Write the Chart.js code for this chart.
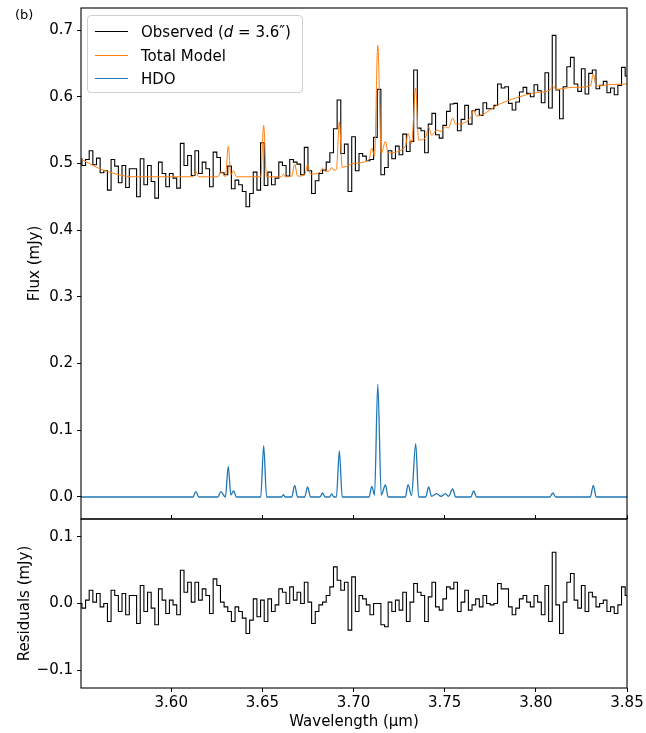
<!DOCTYPE html>
<html>
<head>
<meta charset="utf-8">
<script src="https://cdn.jsdelivr.net/npm/chart.js@4.4.0/dist/chart.umd.min.js"></script>
<style>
  body { margin: 0; background: #fff; }
  #wrap { position: relative; width: 646px; height: 733px; font-family: 'DejaVu Sans', sans-serif; color: #000; }
  canvas { position: absolute; left: 0; top: 0; }
  #tag { position: absolute; left: 15px; top: 7px; font-size: 13px; }
  #legend { position: absolute; left: 87px; top: 15px; width: 216px; height: 78px; box-sizing: border-box;
            border: 1px solid #cfcfcf; border-radius: 4px; background: rgba(255,255,255,0.85); font-size: 15px; }
  .row { position: absolute; left: 0; height: 20px; line-height: 20px; width: 100%; }
  .ln { position: absolute; left: 7px; top: 9px; width: 33px; height: 0; border-top: 1.4px solid; }
  .tx { position: absolute; left: 53px; white-space: nowrap; }
</style>
</head>
<body>
<div id="wrap">
  <canvas id="topChart" width="646" height="733"></canvas>
  <canvas id="resChart" width="646" height="733"></canvas>
  <div id="tag">(b)</div>
  <div id="legend">
    <div class="row" style="top:6px"><span class="ln" style="border-color:#000"></span><span class="tx">Observed (<i>d</i> = 3.6″)</span></div>
    <div class="row" style="top:30px"><span class="ln" style="border-color:#ff7f0e"></span><span class="tx">Total Model</span></div>
    <div class="row" style="top:53px"><span class="ln" style="border-color:#1f77b4"></span><span class="tx">HDO</span></div>
  </div>
</div>
<script>
// observed spectrum grid (um)
var obsWave = [
  3.550,3.552,3.554,3.556,3.558,3.560,3.562,3.564,3.566,3.568,
  3.570,3.572,3.574,3.576,3.578,3.580,3.582,3.584,3.586,3.588,
  3.590,3.592,3.594,3.596,3.598,3.600,3.602,3.604,3.606,3.608,
  3.610,3.612,3.614,3.616,3.618,3.620,3.622,3.624,3.626,3.628,
  3.630,3.632,3.634,3.636,3.638,3.640,3.642,3.644,3.646,3.648,
  3.650,3.652,3.654,3.656,3.658,3.660,3.662,3.664,3.666,3.668,
  3.670,3.672,3.674,3.676,3.678,3.680,3.682,3.684,3.686,3.688,
  3.690,3.692,3.694,3.696,3.698,3.700,3.702,3.704,3.706,3.708,
  3.710,3.712,3.714,3.716,3.718,3.720,3.722,3.724,3.726,3.728,
  3.730,3.732,3.734,3.736,3.738,3.740,3.742,3.744,3.746,3.748,
  3.750,3.752,3.754,3.756,3.758,3.760,3.762,3.764,3.766,3.768,
  3.770,3.772,3.774,3.776,3.778,3.780,3.782,3.784,3.786,3.788,
  3.790,3.792,3.794,3.796,3.798,3.800,3.802,3.804,3.806,3.808,
  3.810,3.812,3.814,3.816,3.818,3.820,3.822,3.824,3.826,3.828,
  3.830,3.832,3.834,3.836,3.838,3.840,3.842,3.844,3.846,3.848,
  3.850
];

// observed flux (mJy)
var obsFlux = [
  0.507,0.497,0.506,0.519,0.498,0.508,0.486,0.489,0.460,0.506,
  0.496,0.471,0.497,0.464,0.492,0.492,0.450,0.507,0.468,0.497,
  0.473,0.448,0.502,0.485,0.465,0.485,0.478,0.463,0.530,0.497,
  0.512,0.482,0.519,0.485,0.502,0.492,0.465,0.517,0.509,0.486,
  0.483,0.496,0.462,0.475,0.468,0.458,0.435,0.455,0.487,0.460,
  0.531,0.467,0.487,0.468,0.478,0.502,0.497,0.481,0.506,0.502,
  0.499,0.483,0.524,0.489,0.455,0.474,0.485,0.490,0.502,0.516,
  0.552,0.595,0.515,0.529,0.458,0.540,0.489,0.515,0.511,0.504,
  0.506,0.539,0.611,0.483,0.494,0.519,0.507,0.526,0.513,0.544,
  0.518,0.533,0.640,0.553,0.549,0.516,0.559,0.575,0.543,0.538,
  0.557,0.578,0.589,0.590,0.549,0.566,0.587,0.559,0.579,0.581,
  0.572,0.591,0.582,0.582,0.587,0.619,0.613,0.615,0.590,0.580,
  0.592,0.607,0.614,0.605,0.600,0.618,0.609,0.591,0.636,0.583,
  0.692,0.610,0.567,0.615,0.645,0.659,0.619,0.608,0.642,0.604,
  0.635,0.640,0.612,0.617,0.623,0.606,0.613,0.603,0.617,0.644,
  0.631
];

// residuals (mJy), same grid
var residFlux = [
  0.000,-0.007,0.005,0.020,0.002,0.015,-0.005,0.000,-0.027,0.020,
  0.012,-0.012,0.015,-0.017,0.012,0.012,-0.030,0.027,-0.012,0.017,
  -0.007,-0.032,0.022,0.005,-0.015,0.005,-0.002,-0.017,0.050,0.017,
  0.032,0.002,0.032,0.005,0.022,0.012,-0.015,0.037,0.027,0.002,
  -0.005,-0.012,-0.027,-0.005,-0.012,-0.022,-0.045,-0.025,0.007,-0.020,
  0.005,-0.027,0.007,-0.012,-0.002,0.022,0.017,0.000,0.025,0.005,
  0.017,0.000,0.032,0.002,-0.030,-0.012,-0.002,0.002,0.012,0.025,
  0.055,0.035,0.020,0.032,-0.040,0.040,-0.012,0.012,0.007,-0.002,
  -0.017,0.000,0.000,-0.032,-0.035,0.002,-0.012,0.005,-0.010,0.017,
  -0.027,0.002,0.030,0.017,0.012,-0.027,0.010,0.032,-0.005,-0.010,
  0.007,0.025,0.022,0.032,-0.012,0.002,0.020,-0.010,-0.002,0.007,
  -0.005,0.012,0.000,-0.002,0.000,0.030,0.022,0.022,-0.005,-0.017,
  -0.007,0.007,0.012,0.002,-0.005,0.012,0.002,-0.017,0.027,-0.027,
  0.077,-0.002,-0.045,0.002,0.032,0.045,0.005,-0.007,0.027,-0.012,
  0.017,0.010,-0.005,0.000,0.005,-0.012,-0.005,-0.015,-0.002,0.025,
  0.012
];

// total model
var modelWave = [
  3.5500,3.5550,3.5600,3.5650,3.5700,3.5750,3.5800,
  3.6119,3.6135,3.6151,
  3.6256,3.6272,3.6297,3.6313,3.6327,3.6342,3.6358,
  3.6491,3.6507,3.6523,
  3.6605,3.6615,3.6625,
  3.6661,3.6677,3.6693,
  3.6732,3.6748,3.6764,
  3.6816,3.6830,3.6844,
  3.6868,3.6880,3.6892,
  3.6906,3.6922,3.6938,
  3.7000,
  3.7085,3.7100,3.7115,3.7133,3.7152,3.7175,3.7190,
  3.7284,3.7299,3.7318,3.7341,3.7357,
  3.7396,3.7412,3.7428,3.7456,3.7480,3.7504,3.7520,3.7544,3.7560,
  3.7643,3.7659,3.7675,
  3.7800,3.7900,3.8000,
  3.8077,3.8093,3.8109,
  3.8200,
  3.8299,3.8315,3.8331,
  3.8400,3.8500
];
var modelFlux = [
  0.507,0.500,0.493,0.488,0.484,0.481,0.480,
  0.480,0.488,0.480,
  0.480,0.488,0.480,0.526,0.483,0.489,0.480,
  0.480,0.557,0.480,
  0.480,0.484,0.480,
  0.481,0.499,0.481,
  0.483,0.498,0.484,
  0.487,0.493,0.488,
  0.489,0.494,0.490,
  0.491,0.562,0.494,
  0.500,
  0.506,0.523,0.511,0.677,0.515,0.533,0.516,
  0.525,0.545,0.530,0.613,0.535,
  0.539,0.555,0.542,0.550,0.548,0.555,0.553,0.568,0.559,
  0.569,0.580,0.571,
  0.589,0.599,0.606,
  0.610,0.617,0.611,
  0.614,
  0.616,0.634,0.616,
  0.618,0.619
];

// HDO component
var hdoWave = [
  3.5500,
  3.6119,3.6135,3.6151,
  3.6256,3.6272,3.6297,3.6313,3.6327,3.6342,3.6358,
  3.6491,3.6507,3.6523,
  3.6605,3.6615,3.6625,
  3.6661,3.6677,3.6693,
  3.6732,3.6748,3.6764,
  3.6816,3.6830,3.6844,
  3.6868,3.6880,3.6892,
  3.6906,3.6922,3.6938,
  3.7085,3.7100,3.7115,3.7133,3.7152,3.7175,3.7190,
  3.7284,3.7299,3.7318,3.7341,3.7357,
  3.7396,3.7412,3.7428,3.7456,3.7480,3.7504,3.7520,3.7544,3.7560,
  3.7643,3.7659,3.7675,
  3.8077,3.8093,3.8109,
  3.8299,3.8315,3.8331,
  3.8500
];
var hdoFlux = [
  0,
  0,0.008,0,
  0,0.008,0,0.046,0.003,0.009,0,
  0,0.077,0,
  0,0.0035,0,
  0,0.0175,0,
  0,0.015,0,
  0,0.006,0,
  0,0.0045,0,
  0,0.069,0,
  0,0.016,0.003,0.169,0.003,0.018,0,
  0,0.0185,0.002,0.080,0,
  0,0.015,0.001,0.005,0.001,0.005,0.001,0.012,0,
  0,0.009,0,
  0,0.006,0,
  0,0.0175,0,
  0
];

var waveTicks = [3.60, 3.65, 3.70, 3.75, 3.80, 3.85];
var fluxTicks = [0.0, 0.1, 0.2, 0.3, 0.4, 0.5, 0.6, 0.7];
var residTicks = [-0.1, 0.0, 0.1];

function pts(xs, ys) {
  return xs.map(function(x, i) { return { x: x, y: ys[i] }; });
}
function fmt1(v) {
  var s = Math.abs(v).toFixed(1);
  return (v < -1e-9 ? '\u2212' : '') + s;
}

var font = { family: "'DejaVu Sans', sans-serif", size: 15 };
var xMin = 3.5505, xMax = 3.85;

var frame = {
  id: 'frame',
  afterDraw: function(chart) {
    var a = chart.chartArea, c = chart.ctx;
    c.save();
    c.strokeStyle = '#000';
    c.lineWidth = 1.1;
    c.strokeRect(a.left, a.top, a.right - a.left, a.bottom - a.top);
    c.restore();
  }
};

// y axis: fixed width, no extra padding for end labels
function fixY(s) {
  s.width = 81;
  s.paddingTop = 0;
  s.paddingBottom = 0;
}

// top panel
new Chart(document.getElementById('topChart'), {
  type: 'line',
  data: {
    datasets: [{
      label: 'Observed',
      data: pts(obsWave, obsFlux),
      borderColor: '#000',
      borderWidth: 1.1,
      stepped: 'middle',
      pointRadius: 0,
      order: 3
    },
    {
      label: 'Total Model',
      data: pts(modelWave, modelFlux),
      borderColor: '#ff7f0e',
      borderWidth: 1,
      cubicInterpolationMode: 'monotone',
      pointRadius: 0,
      order: 1
    },
    {
      label: 'HDO',
      data: pts(hdoWave, hdoFlux),
      borderColor: '#1f77b4',
      borderWidth: 1.3,
      cubicInterpolationMode: 'monotone',
      pointRadius: 0,
      order: 2
    }]
  },
  options: {
    responsive: false,
    animation: false,
    layout: { padding: { left: 0, right: 19, top: 8, bottom: 214 } },
    plugins: { legend: { display: false }, tooltip: { enabled: false } },
    scales: {
      x: { type: 'linear', display: false, min: xMin, max: xMax },
      y: {
        min: -0.033, max: 0.733,
        afterFit: fixY,
        afterBuildTicks: function(s) { s.ticks = fluxTicks.map(function(v) { return { value: v }; }); },
        ticks: { font: font, color: '#000', padding: 4, callback: function(v) { return fmt1(v); } },
        grid: { drawOnChartArea: false, tickLength: 4, color: '#000' },
        border: { display: false },
        title: { display: true, text: 'Flux (mJy)', font: font, color: '#000', padding: { top: 26, bottom: 0 } }
      }
    }
  },
  plugins: [frame]
});

// residual panel
new Chart(document.getElementById('resChart'), {
  type: 'line',
  data: {
    datasets: [{
      label: 'Residuals',
      data: pts(obsWave, residFlux),
      borderColor: '#000',
      borderWidth: 1.1,
      stepped: 'middle',
      pointRadius: 0
    }]
  },
  options: {
    responsive: false,
    animation: false,
    layout: { padding: { left: 0, right: 19, top: 515, bottom: 0 } },
    plugins: { legend: { display: false }, tooltip: { enabled: false } },
    scales: {
      x: {
        type: 'linear', position: 'bottom', min: xMin, max: xMax,
        afterFit: function(s) { s.height = 45; },
        afterBuildTicks: function(s) { s.ticks = waveTicks.map(function(v) { return { value: v }; }); },
        ticks: { font: font, color: '#000', padding: 2, maxRotation: 0, autoSkip: false,
                 callback: function(v) { return v.toFixed(2); } },
        grid: { drawOnChartArea: false, tickLength: 4, color: '#000' },
        border: { display: false },
        title: { display: true, text: 'Wavelength (μm)', font: font, color: '#000', padding: { top: 0, bottom: 2 } }
      },
      xTop: {
        type: 'linear', position: 'top', min: xMin, max: xMax,
        afterFit: function(s) { s.height = 4; },
        afterBuildTicks: function(s) { s.ticks = waveTicks.map(function(v) { return { value: v }; }); },
        ticks: { display: false },
        grid: { drawOnChartArea: false, tickLength: 4, color: '#000' },
        border: { display: false }
      },
      y: {
        min: -0.127, max: 0.127,
        afterFit: fixY,
        afterBuildTicks: function(s) { s.ticks = residTicks.map(function(v) { return { value: v }; }); },
        ticks: { font: font, color: '#000', padding: 4, callback: function(v) { return fmt1(v); } },
        grid: { drawOnChartArea: false, tickLength: 4, color: '#000' },
        border: { display: false },
        title: { display: true, text: 'Residuals (mJy)', font: font, color: '#000', padding: { top: 16, bottom: 0 } }
      }
    }
  },
  plugins: [frame]
});
</script>
</body>
</html>
